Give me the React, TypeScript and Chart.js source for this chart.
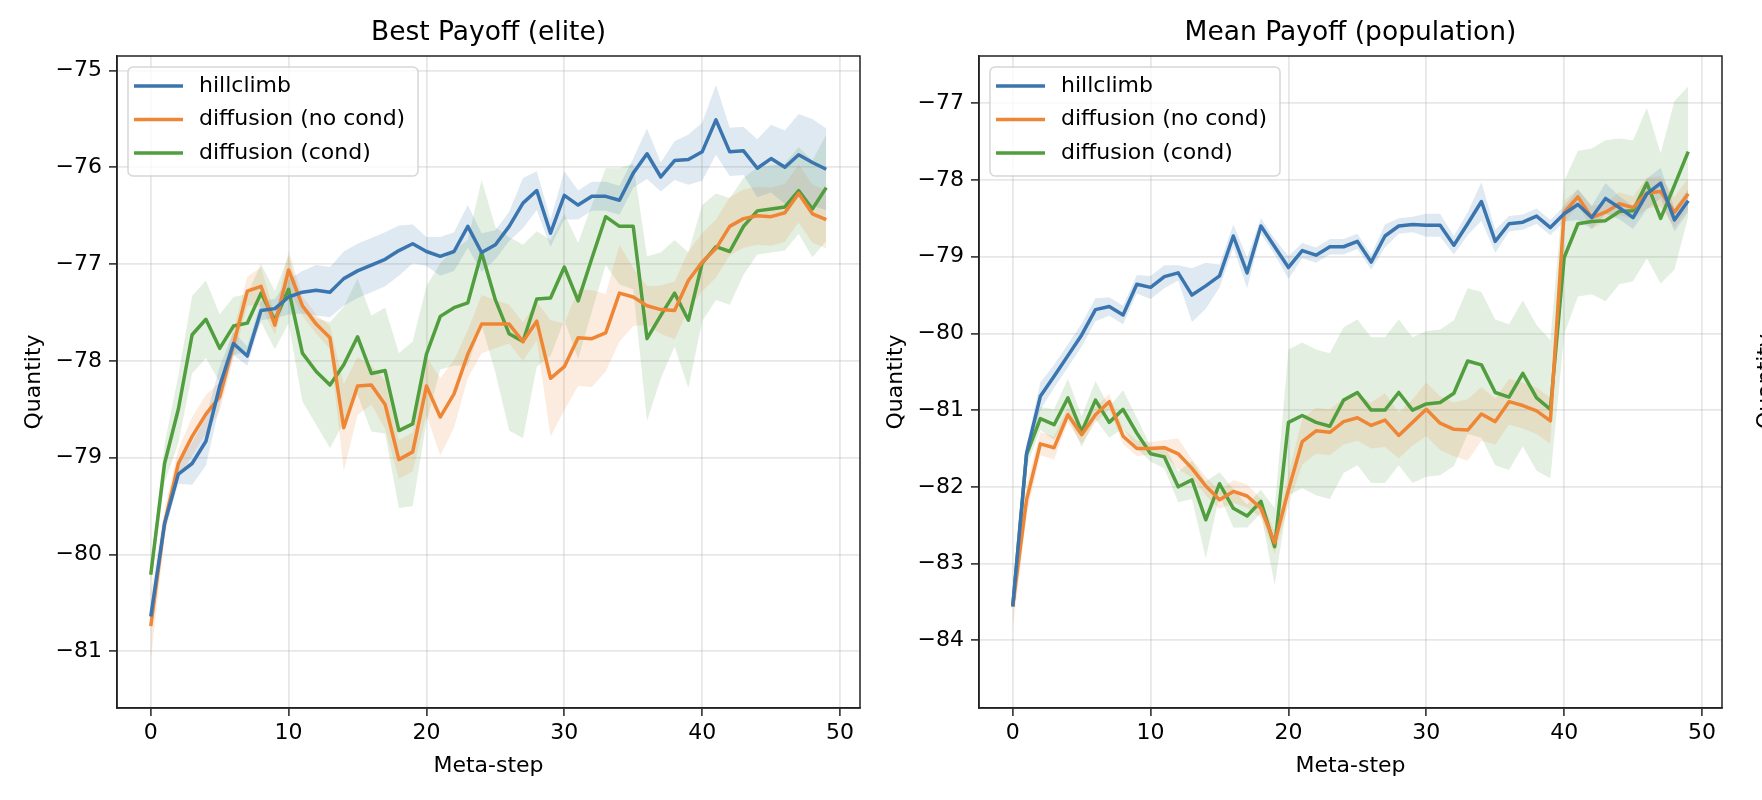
import { useEffect, useRef } from "react";
import { Chart, registerables } from "chart.js";

Chart.register(...registerables);

const metaSteps = Array.from({ length: 50 }, (_, i) => i);
const seriesNames = ["hillclimb", "diffusion (no cond)", "diffusion (cond)"];
const seriesColors = ["#3b75af", "#ef8636", "#519e3e"];
const bandColors = ["rgba(59,117,175,0.16)", "rgba(239,134,54,0.16)", "rgba(81,158,62,0.16)"];

const xTicks = [0, 10, 20, 30, 40, 50];
const bestYTicks = [-81, -80, -79, -78, -77, -76, -75];
const meanYTicks = [-84, -83, -82, -81, -80, -79, -78, -77];

// Best Payoff (elite)
const bestHillclimb = [
  -80.64, -79.68, -79.17, -79.06, -78.83, -78.26, -77.82, -77.95, -77.48, -77.46,
  -77.34, -77.29, -77.27, -77.29, -77.15, -77.07, -77.01, -76.95, -76.86, -76.79,
  -76.87, -76.92, -76.87, -76.61, -76.88, -76.8, -76.61, -76.37, -76.24, -76.68,
  -76.29, -76.39, -76.3, -76.3, -76.34, -76.06, -75.86, -76.1, -75.93, -75.92,
  -75.84, -75.51, -75.84, -75.83, -76.01, -75.91, -76.0, -75.87, -75.95, -76.02,
];
const bestNoCond = [
  -80.74, -79.68, -79.06, -78.78, -78.55, -78.37, -77.83, -77.28, -77.23, -77.63,
  -77.06, -77.43, -77.62, -77.76, -78.69, -78.26, -78.25, -78.45, -79.02, -78.94,
  -78.26, -78.58, -78.34, -77.93, -77.62, -77.62, -77.62, -77.8, -77.59, -78.18,
  -78.06, -77.76, -77.77, -77.71, -77.3, -77.34, -77.43, -77.47, -77.48, -77.17,
  -76.98, -76.84, -76.61, -76.53, -76.5, -76.51, -76.47, -76.27, -76.48, -76.54,
];
const bestCond = [
  -80.21, -79.06, -78.5, -77.73, -77.57, -77.87, -77.64, -77.61, -77.3, -77.58,
  -77.26, -77.92, -78.11, -78.25, -78.04, -77.75, -78.13, -78.1, -78.72, -78.65,
  -77.93, -77.54, -77.45, -77.4, -76.88, -77.37, -77.72, -77.8, -77.36, -77.35,
  -77.03, -77.38, -76.94, -76.51, -76.61, -76.61, -77.77, -77.53, -77.3, -77.58,
  -76.99, -76.82, -76.87, -76.61, -76.45, -76.43, -76.41, -76.24, -76.43, -76.21,
];
const bestHillclimbSpread = [
  0.03, 0.08, 0.1, 0.22, 0.25, 0.2, 0.12, 0.1, 0.1, 0.1,
  0.18, 0.22, 0.26, 0.26, 0.28, 0.28, 0.28, 0.28, 0.26, 0.2,
  0.15, 0.2, 0.2, 0.22, 0.2, 0.15, 0.15, 0.26, 0.2, 0.14,
  0.25, 0.15, 0.15, 0.15, 0.15, 0.15, 0.26, 0.15, 0.2, 0.26,
  0.3, 0.36, 0.25, 0.25, 0.3, 0.35, 0.38, 0.42, 0.45, 0.42,
];
const bestNoCondSpread = [
  0.35, 0.15, 0.15, 0.2, 0.2, 0.15, 0.15, 0.15, 0.2, 0.1,
  0.2, 0.1, 0.1, 0.12, 0.45, 0.3, 0.2, 0.25, 0.2, 0.2,
  0.3, 0.4, 0.35, 0.25, 0.3, 0.25, 0.2, 0.2, 0.2, 0.6,
  0.45, 0.5, 0.5, 0.4, 0.5, 0.3, 0.2, 0.25, 0.3, 0.3,
  0.3, 0.3, 0.3, 0.3, 0.3, 0.3, 0.3, 0.3, 0.3, 0.3,
];
const bestCondSpread = [
  0.08, 0.2, 0.35, 0.4, 0.4, 0.35, 0.3, 0.3, 0.3, 0.3,
  0.35, 0.5, 0.55, 0.65, 0.6, 0.6, 0.6, 0.65, 0.8, 0.85,
  0.7, 0.55, 0.6, 0.65, 0.75, 0.75, 1.0, 1.0, 0.7, 0.6,
  0.55, 0.6, 0.55, 0.5, 0.6, 0.65, 0.85, 0.65, 0.55, 0.7,
  0.6, 0.55, 0.55, 0.5, 0.45, 0.45, 0.45, 0.45, 0.5, 0.55,
];

// Mean Payoff (population)
const meanHillclimb = [
  -83.56, -81.56, -80.82, -80.56, -80.29, -80.02, -79.69, -79.65, -79.76, -79.36,
  -79.4, -79.26, -79.21, -79.5, -79.38, -79.25, -78.73, -79.21, -78.6, -78.87,
  -79.14, -78.92, -78.98, -78.87, -78.87, -78.8, -79.07, -78.73, -78.6, -78.58,
  -78.59, -78.59, -78.85, -78.57, -78.28, -78.8, -78.57, -78.55, -78.47, -78.62,
  -78.44, -78.32, -78.49, -78.24, -78.36, -78.49, -78.18, -78.04, -78.52, -78.27,
];
const meanNoCond = [
  -83.56, -82.17, -81.44, -81.49, -81.06, -81.32, -81.06, -80.89, -81.34, -81.5,
  -81.5, -81.49, -81.57, -81.76, -81.99, -82.17, -82.06, -82.12, -82.28, -82.73,
  -82.04, -81.41, -81.27, -81.29, -81.15, -81.1, -81.2, -81.13, -81.33, -81.16,
  -80.99, -81.17, -81.25, -81.26, -81.05, -81.15, -80.89, -80.94, -81.01, -81.14,
  -78.42, -78.22, -78.49, -78.42, -78.31, -78.36, -78.17, -78.15, -78.42, -78.18,
];
const meanCond = [
  -83.56, -81.58, -81.11, -81.19, -80.84, -81.28, -80.87, -81.16, -80.99, -81.3,
  -81.57, -81.61, -82.0, -81.91, -82.43, -81.96, -82.28, -82.38, -82.19, -82.78,
  -81.16, -81.07, -81.16, -81.21, -80.87, -80.77, -81.0, -81.0, -80.77, -81.0,
  -80.92, -80.9, -80.78, -80.36, -80.41, -80.77, -80.83, -80.52, -80.84, -80.99,
  -79.01, -78.57, -78.54, -78.53, -78.41, -78.4, -78.04, -78.5, -78.07, -77.63,
];
const meanHillclimbSpread = [
  0.05, 0.1, 0.18, 0.15, 0.15, 0.15, 0.15, 0.12, 0.12, 0.12,
  0.15, 0.15, 0.1, 0.35, 0.3, 0.15, 0.15, 0.2, 0.1, 0.1,
  0.15, 0.1, 0.1, 0.1, 0.1, 0.1, 0.1, 0.15, 0.1, 0.1,
  0.15, 0.15, 0.12, 0.15, 0.25, 0.15, 0.1, 0.1, 0.1, 0.1,
  0.1, 0.2, 0.15, 0.2, 0.15, 0.15, 0.2, 0.2, 0.15, 0.15,
];
const meanNoCondSpread = [
  0.3, 0.2, 0.15, 0.15, 0.1, 0.12, 0.1, 0.1, 0.1, 0.1,
  0.08, 0.1, 0.2, 0.12, 0.12, 0.12, 0.15, 0.15, 0.12, 0.15,
  0.2, 0.3, 0.3, 0.3, 0.3, 0.3, 0.3, 0.35, 0.3, 0.3,
  0.35, 0.35, 0.35, 0.4, 0.35, 0.3, 0.3, 0.3, 0.3, 0.3,
  0.15, 0.1, 0.15, 0.12, 0.15, 0.15, 0.2, 0.2, 0.2, 0.2,
];
const meanCondSpread = [
  0.05, 0.15, 0.15, 0.2, 0.25, 0.2, 0.25, 0.2, 0.25, 0.2,
  0.1, 0.15, 0.2, 0.25, 0.5, 0.15, 0.25, 0.15, 0.15, 0.5,
  0.95, 0.95, 0.95, 0.95, 0.95, 0.95, 0.95, 0.95, 0.95, 0.95,
  0.95, 0.95, 0.95, 0.95, 0.95, 0.95, 0.95, 0.95, 0.95, 0.9,
  1.0, 0.95, 0.95, 1.05, 0.95, 0.92, 0.98, 0.85, 1.1, 0.85,
];

const FONT = "'DejaVu Sans', 'Liberation Sans', sans-serif";
const minus = (v: number) => String(v).replace("-", "\u2212");

const framePlugin = {
  id: "frame",
  afterDraw(chart: any) {
    const { ctx, chartArea: a } = chart;
    ctx.save();
    ctx.strokeStyle = "#222";
    ctx.lineWidth = 1.5;
    ctx.strokeRect(a.left, a.top, a.right - a.left, a.bottom - a.top);
    ctx.restore();
  },
};

const legendBoxPlugin = {
  id: "legendBox",
  afterDatasetsDraw(chart: any) {
    const { ctx, chartArea: a } = chart;
    const x = a.left + 11;
    const y = a.top + 11;
    const w = 290;
    const h = 109;
    ctx.save();
    ctx.beginPath();
    ctx.roundRect(x, y, w, h, 5);
    ctx.fillStyle = "rgba(255,255,255,0.8)";
    ctx.fill();
    ctx.strokeStyle = "rgba(204,204,204,0.8)";
    ctx.lineWidth = 1.5;
    ctx.stroke();
    ctx.font = `22px ${FONT}`;
    ctx.textBaseline = "middle";
    seriesNames.forEach((name, i) => {
      const ry = a.top + 30 + i * 33.5;
      ctx.beginPath();
      ctx.moveTo(a.left + 17, ry);
      ctx.lineTo(a.left + 66, ry);
      ctx.strokeStyle = seriesColors[i];
      ctx.lineWidth = 3.5;
      ctx.stroke();
      ctx.fillStyle = "#000";
      ctx.fillText(name, a.left + 82, ry);
    });
    ctx.restore();
  },
};

function makeConfig(
  title: string,
  lines: number[][],
  spreads: number[][],
  yMin: number,
  yMax: number,
  yTicks: number[]
): any {
  const datasets: any[] = [];
  lines.forEach((values, s) => {
    datasets.push({
      data: values.map((v, i) => ({ x: metaSteps[i], y: v + spreads[s][i] })),
      fill: "+1",
      backgroundColor: bandColors[s],
      borderWidth: 0,
      pointRadius: 0,
      order: 10,
    });
    datasets.push({
      data: values.map((v, i) => ({ x: metaSteps[i], y: v - spreads[s][i] })),
      fill: false,
      borderWidth: 0,
      pointRadius: 0,
      order: 10,
    });
  });
  lines.forEach((values, s) => {
    datasets.push({
      label: seriesNames[s],
      data: values.map((v, i) => ({ x: metaSteps[i], y: v })),
      borderColor: seriesColors[s],
      borderWidth: 3.5,
      borderJoinStyle: "round",
      pointRadius: 0,
      fill: false,
      tension: 0,
      order: 0,
    });
  });

  const tickFont = { family: FONT, size: 22 };
  const gridStyle = {
    color: "rgba(176,176,176,0.3)",
    lineWidth: 1.8,
    tickLength: 8,
    tickColor: "#222",
    tickWidth: 1.5,
  };

  return {
    type: "line",
    data: { datasets },
    options: {
      animation: false,
      responsive: true,
      maintainAspectRatio: false,
      layout: { padding: 0 },
      plugins: {
        legend: { display: false },
        tooltip: { enabled: false },
        filler: { drawTime: "beforeDatasetsDraw" },
        title: {
          display: true,
          text: title,
          color: "#000",
          font: { family: FONT, size: 26.5, weight: "normal" },
          padding: { top: 17.7, bottom: 6.5 },
        },
      },
      scales: {
        x: {
          type: "linear",
          min: -2.45,
          max: 51.45,
          afterBuildTicks: (scale: any) => {
            scale.ticks = xTicks.map((v) => ({ value: v }));
          },
          afterFit: (scale: any) => {
            scale.height = 92;
          },
          grid: gridStyle,
          border: { display: true, color: "#222", width: 1.5 },
          ticks: {
            font: tickFont,
            color: "#000",
            padding: 4.5,
            maxRotation: 0,
            autoSkip: false,
          },
          title: {
            display: true,
            text: "Meta-step",
            color: "#000",
            font: tickFont,
            padding: { top: 0, bottom: 20.5 },
          },
        },
        y: {
          type: "linear",
          min: yMin,
          max: yMax,
          afterBuildTicks: (scale: any) => {
            scale.ticks = yTicks.map((v) => ({ value: v }));
          },
          afterFit: (scale: any) => {
            scale.width = 117;
          },
          grid: gridStyle,
          border: { display: true, color: "#222", width: 1.5 },
          ticks: {
            font: tickFont,
            color: "#000",
            padding: 7,
            autoSkip: false,
            callback: (v: number) => minus(v),
          },
          title: {
            display: true,
            text: "Quantity",
            color: "#000",
            font: tickFont,
            padding: { top: 21, bottom: 0 },
          },
        },
        // empty right-hand axis: keeps the title centred over the plot area
        spacer: {
          type: "linear",
          position: "right",
          afterFit: (scale: any) => {
            scale.width = 117;
          },
          grid: { display: false, drawTicks: false },
          border: { display: false },
          ticks: { display: false },
        },
      },
    },
    plugins: [framePlugin, legendBoxPlugin],
  };
}

function Panel({ left, config }: { left: number; config: any }) {
  const chartRef: any = useRef(null);
  useEffect(() => {
    const ctx = chartRef.current.getContext("2d");
    const theChart = new Chart(ctx, config);
    return () => {
      theChart.destroy();
    };
  }, []);
  return (
    <div style={{ position: "absolute", left, top: 0, width: 977, height: 800 }}>
      <canvas ref={chartRef} />
    </div>
  );
}

export default function App() {
  const bestConfig = makeConfig(
    "Best Payoff (elite)",
    [bestHillclimb, bestNoCond, bestCond],
    [bestHillclimbSpread, bestNoCondSpread, bestCondSpread],
    -81.586,
    -74.85,
    bestYTicks
  );
  const meanConfig = makeConfig(
    "Mean Payoff (population)",
    [meanHillclimb, meanNoCond, meanCond],
    [meanHillclimbSpread, meanNoCondSpread, meanCondSpread],
    -84.884,
    -76.383,
    meanYTicks
  );
  return (
    <div
      style={{
        position: "absolute",
        left: 0,
        top: 0,
        width: 1762,
        height: 800,
        overflow: "hidden",
        background: "#fff",
      }}
    >
      <Panel left={0} config={bestConfig} />
      <Panel left={862} config={meanConfig} />
      <span
        style={{
          position: "absolute",
          left: 1752,
          top: 429,
          transform: "rotate(-90deg)",
          transformOrigin: "left top",
          font: `22px ${FONT}`,
          lineHeight: 1.2,
          whiteSpace: "nowrap",
          color: "#000",
        }}
      >
        Quantity
      </span>
    </div>
  );
}
